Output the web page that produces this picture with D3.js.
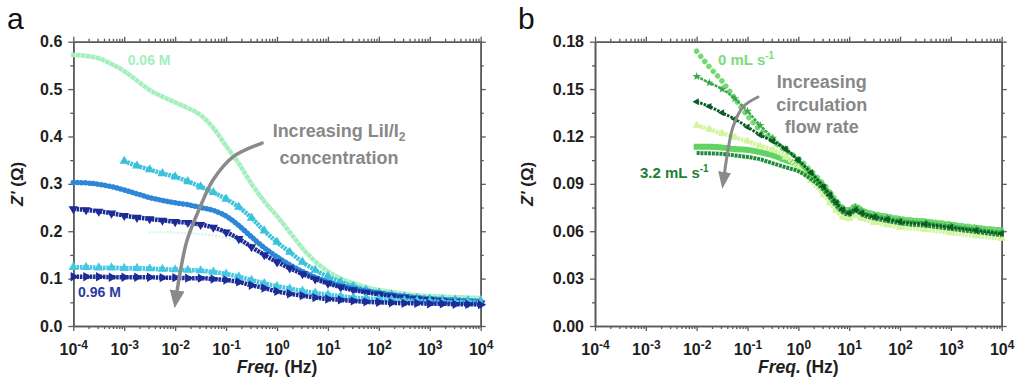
<!DOCTYPE html>
<html><head><meta charset="utf-8">
<script src="https://cdn.jsdelivr.net/npm/d3@7"></script>
<style>
body{margin:0;background:#fff;}
svg{display:block;font-family:"Liberation Sans",Arial,sans-serif;}
.ax path.domain{stroke:#5a5a5a;stroke-width:1.6;}
.ax line{stroke:#5a5a5a;stroke-width:1.3;}
.ax text{font-family:"Liberation Sans",Arial,sans-serif;font-weight:bold;fill:#1e1e1e;font-size:16px;}
</style></head><body>
<svg id="chart" width="1022" height="388"></svg>
<script>
// ---------- data ----------
const xTickExps = [-4,-3,-2,-1,0,1,2,3,4];
const yTicksA = [0,0.1,0.2,0.3,0.4,0.5,0.6];
const yMinorA = [0.05,0.15,0.25,0.35,0.45,0.55];
const yTicksB = [0,0.03,0.06,0.09,0.12,0.15,0.18];
const yMinorB = [0.015,0.045,0.075,0.105,0.135,0.165];

// panel a : log10(frequency / Hz)
const freqExpA = [-4,-3.75,-3.5,-3.25,-3,-2.75,-2.5,-2.25,-2,-1.75,-1.5,-1.25,-1,-0.75,-0.5,-0.25,0,0.25,0.5,0.75,1,1.25,1.5,1.75,2,2.25,2.5,2.75,3,3.25,3.5,3.75,4];
const zA_006 = [0.572,0.570,0.565,0.553,0.538,0.518,0.498,0.484,0.472,0.460,0.445,0.418,0.380,0.343,0.300,0.263,0.232,0.198,0.164,0.136,0.115,0.100,0.090,0.082,0.076,0.072,0.068,0.065,0.063,0.062,0.061,0.060,0.059];
const zA_faint = [null,null,null,null,null,null,0.198,0.198,0.197,0.196,0.194,0.191,0.186,0.178,0.168,null,null,null,null,null,null,null,null,null,null,null,null,null,null,null,null,null,null];
const zA_cyan1 = [null,null,null,null,0.348,0.338,0.330,0.322,0.315,0.305,0.294,0.282,0.268,0.251,0.228,0.201,0.177,0.156,0.135,0.118,0.104,0.093,0.084,0.076,0.070,0.066,0.062,0.059,0.057,0.056,0.055,0.054,0.053];
const zA_blue = [0.303,0.302,0.299,0.294,0.287,0.279,0.271,0.265,0.260,0.256,0.250,0.244,0.232,0.212,0.188,0.165,0.146,0.129,0.115,0.103,0.093,0.085,0.079,0.074,0.070,0.066,0.063,0.060,0.058,0.056,0.055,0.053,0.052];
const zA_navy1 = [0.247,0.245,0.242,0.238,0.233,0.229,0.226,0.223,0.220,0.218,0.214,0.208,0.198,0.184,0.167,0.150,0.135,0.122,0.110,0.099,0.090,0.082,0.076,0.071,0.067,0.063,0.060,0.057,0.055,0.053,0.051,0.049,0.048];
const zA_cyan2 = [0.124,0.124,0.123,0.123,0.122,0.122,0.121,0.120,0.119,0.118,0.117,0.114,0.110,0.104,0.097,0.090,0.084,0.079,0.074,0.070,0.066,0.063,0.060,0.058,0.057,0.055,0.054,0.053,0.052,0.051,0.050,0.050,0.049];
const zA_096 = [0.104,0.104,0.104,0.103,0.103,0.103,0.103,0.102,0.102,0.101,0.101,0.099,0.097,0.093,0.086,0.080,0.073,0.068,0.064,0.060,0.057,0.055,0.053,0.051,0.050,0.049,0.048,0.048,0.047,0.047,0.046,0.046,0.045];

// panel b : log10(frequency / Hz)
const freqExpB = [-2,-1.75,-1.5,-1.25,-1,-0.75,-0.5,-0.25,0,0.25,0.5,0.625,0.75,0.875,1,1.125,1.25,1.5,1.75,2,2.5,3,3.5,4];
const zB_0 = [0.174,0.164,0.155,0.144,0.133,0.124,0.117,0.111,0.106,0.098,0.0895,0.0845,0.079,0.075,0.0735,0.076,0.0735,0.071,0.0695,0.068,0.0665,0.0645,0.0625,0.0605];
const zB_star = [0.158,0.154,0.150,0.144,0.136,0.127,0.119,0.112,0.105,0.097,0.0885,0.0835,0.078,0.074,0.0725,0.075,0.0725,0.070,0.0685,0.067,0.0655,0.0635,0.0615,0.0595];
const zB_dark = [0.142,0.139,0.135,0.131,0.126,0.121,0.117,0.112,0.105,0.097,0.088,0.083,0.078,0.0735,0.0715,0.0735,0.0715,0.069,0.0675,0.066,0.0645,0.0625,0.0605,0.0585];
const zB_pale = [0.127,0.1245,0.122,0.1195,0.117,0.114,0.1115,0.107,0.100,0.092,0.083,0.078,0.073,0.069,0.068,0.070,0.068,0.0655,0.064,0.0625,0.061,0.059,0.057,0.0555];
const zB_sq = [0.1135,0.1135,0.113,0.112,0.1115,0.110,0.108,0.105,0.102,0.096,0.088,0.083,0.078,0.074,0.073,0.0755,0.073,0.0705,0.069,0.0675,0.066,0.064,0.062,0.0605];
const zB_32 = [0.1095,0.1093,0.109,0.108,0.107,0.1055,0.103,0.1005,0.098,0.093,0.086,0.081,0.076,0.072,0.0705,0.073,0.0705,0.068,0.0665,0.065,0.0635,0.0615,0.0595,0.0575];

// annotation arrows (log10 f, Z')
const arrowA = [[-0.293,0.386],[-0.863,0.357],[-1.256,0.308],[-1.51,0.251],[-1.766,0.181],[-1.904,0.112],[-1.96,0.075]];
const arrowB = [[-0.794,0.145],[-1.089,0.1387],[-1.286,0.126],[-1.384,0.1114],[-1.45,0.0975]];

// ---------- drawing ----------
const svg = d3.select('#chart');
const defs = svg.append('defs');
defs.append('marker').attr('id','headA').attr('markerUnits','userSpaceOnUse')
  .attr('viewBox','0 -8 18 16').attr('markerWidth',18).attr('markerHeight',16)
  .attr('refX',0).attr('refY',0).attr('orient','auto')
  .append('path').attr('d','M0,-7.5L18,0L0,7.5Z').attr('fill','#8a8a8a');
defs.append('marker').attr('id','headB').attr('markerUnits','userSpaceOnUse')
  .attr('viewBox','0 -7 17 14').attr('markerWidth',17).attr('markerHeight',14)
  .attr('refX',0).attr('refY',0).attr('orient','auto')
  .append('path').attr('d','M0,-6.5L17,0L0,6.5Z').attr('fill','#8a8a8a');

const xA = d3.scaleLog().domain([1e-4,1e4]).range([73.3,480.7]);
const yA = d3.scaleLinear().domain([0,0.6]).range([326,41.7]);
const xB = d3.scaleLog().domain([1e-4,1e4]).range([595,1001.7]);
const yB = d3.scaleLinear().domain([0,0.18]).range([326,41.7]);

const xMajor = xTickExps.map(e=>Math.pow(10,e));
const xMinor = [];
for (let d=-4; d<4; d++) for (let k=2; k<=9; k++) xMinor.push(k*Math.pow(10,d));

function frame(x, y, yMaj, yMin, fmt, titleOff) {
  const [x0,x1] = x.range(), [y0,y1] = y.range();
  const g = svg.append('g');
  const add = (tr, axis) => g.append('g').attr('class','ax').attr('transform',tr).call(axis);
  const bot = add(`translate(0,${y0})`, d3.axisBottom(x).tickValues(xMajor).tickSize(5).tickSizeOuter(0).tickFormat(d=>Math.round(Math.log10(d))));
  bot.selectAll('.tick text').each(function(d){
    const t = d3.select(this); const e = Math.round(Math.log10(d));
    t.text(null).attr('y',29).attr('dy',null);
    t.append('tspan').text('10');
    t.append('tspan').attr('dy',-6).attr('font-size','12px').text(e);
  });
  add(`translate(0,${y0})`, d3.axisBottom(x).tickValues(xMinor).tickSize(3).tickSizeOuter(0).tickFormat(''));
  add(`translate(0,${y1})`, d3.axisTop(x).tickValues(xMajor).tickSize(5).tickSizeOuter(0).tickFormat(''));
  add(`translate(0,${y1})`, d3.axisTop(x).tickValues(xMinor).tickSize(3).tickSizeOuter(0).tickFormat(''));
  add(`translate(${x0},0)`, d3.axisLeft(y).tickValues(yMaj).tickSize(5).tickPadding(6).tickSizeOuter(0).tickFormat(fmt));
  add(`translate(${x0},0)`, d3.axisLeft(y).tickValues(yMin).tickSize(3).tickSizeOuter(0).tickFormat(''));
  add(`translate(${x1},0)`, d3.axisRight(y).tickValues(yMaj).tickSize(5).tickSizeOuter(0).tickFormat(''));
  add(`translate(${x1},0)`, d3.axisRight(y).tickValues(yMin).tickSize(3).tickSizeOuter(0).tickFormat(''));
  const cx = (x0+x1)/2, cy = (y0+y1)/2;
  const xt = svg.append('text').attr('x',cx).attr('y',373).attr('text-anchor','middle')
    .attr('font-size','17.5px').attr('font-weight','bold').attr('fill','#1e1e1e');
  xt.append('tspan').attr('font-style','italic').text('Freq.');
  xt.append('tspan').text(' (Hz)');
  const yt = svg.append('text').attr('transform',`translate(${x0-titleOff},${cy}) rotate(-90)`).attr('text-anchor','middle')
    .attr('font-size','17px').attr('font-weight','bold').attr('fill','#1e1e1e');
  yt.append('tspan').attr('font-style','italic').text("Z'");
  yt.append('tspan').text(' (\u03A9)');
}

function series(x, y, exps, vals, st) {
  const pts = exps.map((e,i)=>({f:Math.pow(10,e), v:vals[i]})).filter(d=>d.v!=null);
  const line = d3.line().x(d=>x(d.f)).y(d=>y(d.v)).curve(d3.curveMonotoneX);
  const g = svg.append('g');
  g.append('path').attr('d', line(pts)).attr('fill','none').attr('stroke',st.color)
    .attr('stroke-width',st.w).attr('stroke-dasharray',st.dash).attr('stroke-linecap',st.cap);
  if (st.sym) {
    g.selectAll(null).data(pts).enter().append('path')
      .attr('d', d3.symbol(st.sym, st.size)())
      .attr('transform', d=>`translate(${x(d.f)},${y(d.v)}) rotate(${st.rot||0})`)
      .attr('fill', st.color);
  }
}

function arrow(x, y, pts, w, head) {
  const line = d3.line().x(d=>x(Math.pow(10,d[0]))).y(d=>y(d[1])).curve(d3.curveCatmullRom);
  svg.append('path').attr('d', line(pts)).attr('fill','none').attr('stroke','#8a8a8a')
    .attr('stroke-width',w).attr('stroke-linecap','round').attr('marker-end',`url(#${head})`);
}

function label(xp, yp, lines, opts) {
  lines.forEach((ln, i) => {
    const t = svg.append('text').attr('x',xp).attr('y',yp + i*opts.lh).attr('text-anchor',opts.anchor)
      .attr('font-size',opts.size).attr('font-weight','bold').attr('fill',opts.color);
    ln.forEach(p => {
      const s = t.append('tspan').text(p.t);
      if (p.sup) s.attr('font-size','10px').attr('dy',-6);
      if (p.sub) s.attr('font-size','12px').attr('dy',4);
    });
  });
}

// ----- panel a -----
frame(xA, yA, yTicksA, yMinorA, d3.format('.1f'), 50);
series(xA, yA, freqExpA, zA_006, {color:'#a3efbd', w:4.5, dash:'0.01,5', cap:'square'});
series(xA, yA, freqExpA, zA_faint, {color:'#d6f7e8', w:2.5, dash:'0.01,3.5', cap:'round'});
series(xA, yA, freqExpA, zA_cyan1, {color:'#3ac2dc', w:4.5, dash:'2.5,0.8', cap:'butt', sym:d3.symbolTriangle, size:38});
series(xA, yA, freqExpA, zA_blue, {color:'#2e86d6', w:5.5, dash:'0.01,4', cap:'round'});
series(xA, yA, freqExpA, zA_navy1, {color:'#1d2b96', w:4.5, dash:'2.5,0.8', cap:'butt', sym:d3.symbolTriangle, size:38, rot:180});
series(xA, yA, freqExpA, zA_cyan2, {color:'#45c8e3', w:4.5, dash:'2.5,0.8', cap:'butt', sym:d3.symbolTriangle, size:38});
series(xA, yA, freqExpA, zA_096, {color:'#1d2b96', w:4.5, dash:'2.5,0.8', cap:'butt', sym:d3.symbolTriangle, size:38, rot:90});
arrow(xA, yA, arrowA, 3.5, 'headA');
label(127.7, 65, [[{t:'0.06 M'}]], {size:'14px', color:'#a3efbd', anchor:'start', lh:0});
label(78, 297, [[{t:'0.96 M'}]], {size:'14px', color:'#2b3aa5', anchor:'start', lh:0});
label(339, 137, [[{t:'Increasing LiI/I'},{t:'2', sub:true}],[{t:'concentration'}]], {size:'18px', color:'#888888', anchor:'middle', lh:27});
svg.append('text').attr('x',7).attr('y',29).attr('font-size','30px').attr('fill','#111').text('a');

// ----- panel b -----
frame(xB, yB, yTicksB, yMinorB, d3.format('.2f'), 62);
series(xB, yB, freqExpB, zB_sq, {color:'#62d262', w:6, dash:'0.01,4.5', cap:'square'});
series(xB, yB, freqExpB, zB_0, {color:'#74d974', w:5.5, dash:'0.01,6.5', cap:'round'});
series(xB, yB, freqExpB, zB_pale, {color:'#d3f59f', w:4.5, dash:'2.5,0.8', cap:'butt', sym:d3.symbolTriangle, size:30});
series(xB, yB, freqExpB, zB_32, {color:'#208c39', w:4, dash:'3,0.8', cap:'butt'});
series(xB, yB, freqExpB, zB_star, {color:'#3aa84a', w:2.5, dash:'3,1', cap:'butt', sym:d3.symbolStar, size:22});
series(xB, yB, freqExpB, zB_dark, {color:'#0c5a24', w:3, dash:'2.5,1.2', cap:'butt', sym:d3.symbolTriangle, size:22, rot:-90});
arrow(xB, yB, arrowB, 3, 'headB');
label(718, 65, [[{t:'0 mL s'},{t:'-1', sup:true}]], {size:'15px', color:'#7ddb7d', anchor:'start', lh:0});
label(640, 178, [[{t:'3.2 mL s'},{t:'-1', sup:true}]], {size:'15px', color:'#1f7f37', anchor:'start', lh:0});
label(821.7, 88, [[{t:'Increasing'}],[{t:'circulation'}],[{t:'flow rate'}]], {size:'18px', color:'#888888', anchor:'middle', lh:22.5});
svg.append('text').attr('x',518).attr('y',29).attr('font-size','30px').attr('fill','#111').text('b');
</script>
</body></html>
